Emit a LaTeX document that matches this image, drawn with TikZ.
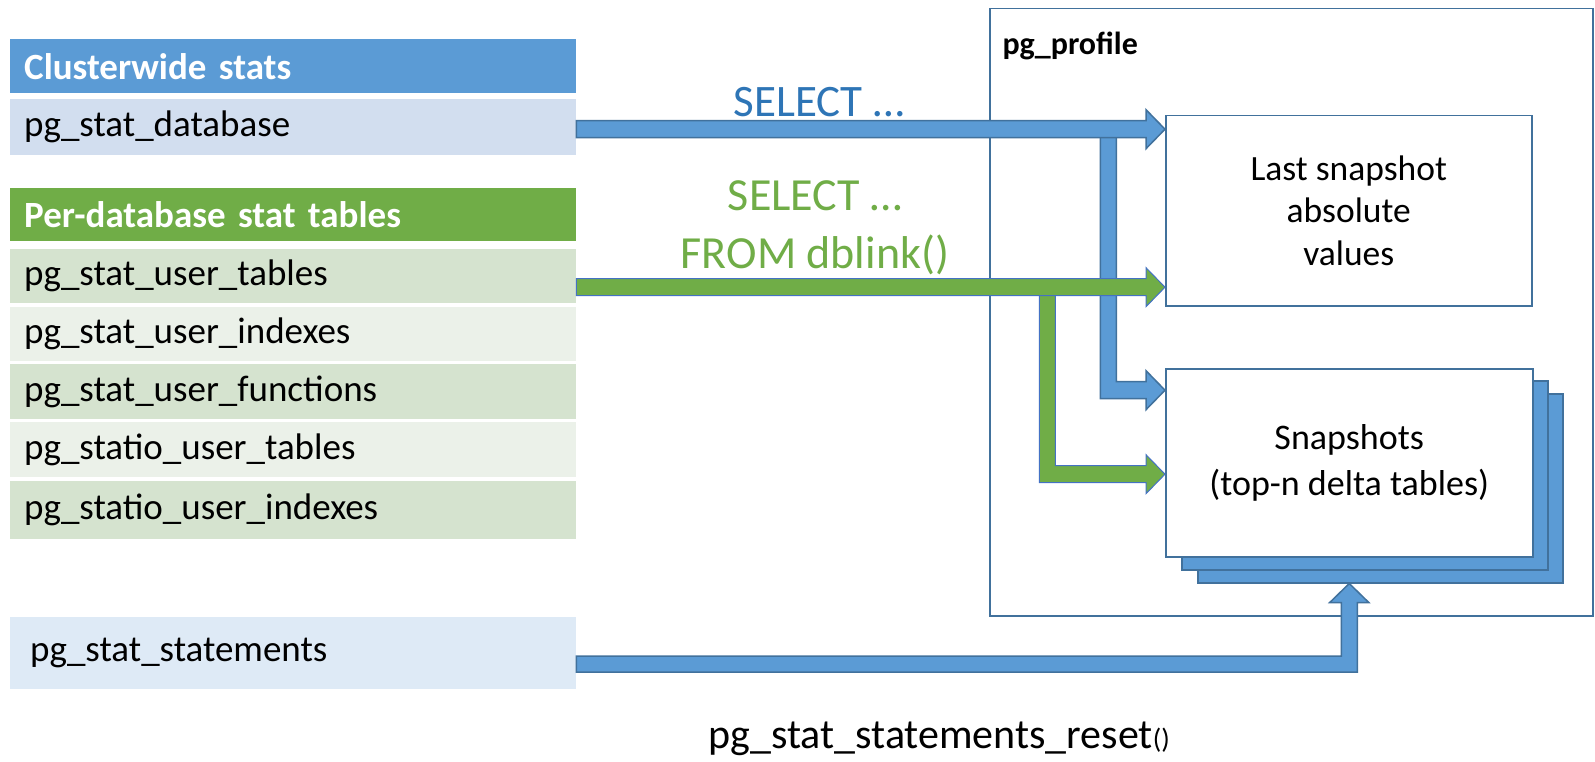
\documentclass[tikz,border=0pt]{standalone}
\usepackage{fontspec}
\setmainfont{Carlito}
\usetikzlibrary{calc}
\definecolor{hblue}{HTML}{5B9BD5}
\definecolor{oblue}{HTML}{41719C}
\definecolor{hgreen}{HTML}{70AD47}
\definecolor{rowblue}{HTML}{D2DEEF}
\definecolor{rowblue2}{HTML}{DEEAF6}
\definecolor{rowgA}{HTML}{D5E3CF}
\definecolor{rowgB}{HTML}{EBF1E9}
\definecolor{tblue}{HTML}{2E75B6}
\definecolor{gline}{HTML}{4472C4}
\tikzset{
  row/.style={anchor=north west, text width=538pt, inner xsep=14pt, inner ysep=0pt,
    font=\fontsize{37}{44}\selectfont, align=left},
  hdr/.style={row, text=white, font=\fontsize{37}{44}\selectfont\bfseries},
  pbox/.style={draw=oblue, line width=1.5pt, anchor=north west, inner sep=0pt},
  layer/.style={pbox, fill=hblue},
  bluearr/.style={fill=hblue, draw=oblue, line width=1.5pt, line join=miter},
  greenarr/.style={fill=hgreen, draw=gline, line width=1pt, line join=miter},
}
% horizontal fat arrow: #1 style, #2 start, #3 tip
\newcommand\hfat[3]{%
  \filldraw[#1] ($(#2)+(0,-8.5)$) -- ($(#3)+(-19,-8.5)$) -- ($(#3)+(-19,-19.5)$) -- (#3)
    -- ($(#3)+(-19,19.5)$) -- ($(#3)+(-19,8.5)$) -- ($(#2)+(0,8.5)$) -- cycle;}
% down-then-right fat arrow: #1 style, #2 top, #3 corner, #4 tip
\newcommand\lfat[4]{%
  \filldraw[#1] ($(#2)+(-8,0)$) -- ($(#3)+(-8,8.5)$) -- ($(#4)+(-19,8.5)$) -- ($(#4)+(-19,19.5)$)
    -- (#4) -- ($(#4)+(-19,-19.5)$) -- ($(#4)+(-19,-8.5)$) -- ($(#3)+(8,-8.5)$) -- ($(#2)+(8,0)$) -- cycle;}
% right-then-up fat arrow: #1 style, #2 start, #3 corner, #4 tip
\newcommand\ufat[4]{%
  \filldraw[#1] ($(#2)+(0,-8)$) -- ($(#3)+(-8,-8)$) -- ($(#4)+(-8,19)$) -- ($(#4)+(-19.5,19)$)
    -- (#4) -- ($(#4)+(19.5,19)$) -- ($(#4)+(8,19)$) -- ($(#3)+(8,8)$) -- ($(#2)+(0,8)$) -- cycle;}
\begin{document}
\begin{tikzpicture}[x=1pt, y=-1pt]
\useasboundingbox[fill=white] (0,0) rectangle (1595,762);

% left column
\node[hdr, fill=hblue, minimum height=54pt] (cw) at (10,39) {Clusterwide stats};
\node[row, fill=rowblue, minimum height=56pt] (db) at (10,99) {pg\_stat\_database};
\node[hdr, fill=hgreen, minimum height=53pt] (pd) at (10,188) {Per-database stat tables};
\node[row, fill=rowgA, minimum height=54pt] (t1) at (10,249) {pg\_stat\_user\_tables};
\node[row, fill=rowgB, minimum height=54pt] (t2) at (10,307) {pg\_stat\_user\_indexes};
\node[row, fill=rowgA, minimum height=55pt] (t3) at (10,364) {pg\_stat\_user\_functions};
\node[row, fill=rowgB, minimum height=55pt] (t4) at (10,422) {pg\_statio\_user\_tables};
\node[row, fill=rowgA, minimum height=58pt] (t5) at (10,481) {pg\_statio\_user\_indexes};
\node[row, fill=rowblue2, minimum height=72pt, text width=526pt, inner xsep=20pt] (stmt) at (10,617) {pg\_stat\_statements};

% pg_profile
\node[pbox, minimum width=603pt, minimum height=607pt] (prof) at (989,8) {};
\node[anchor=west, font=\fontsize{32}{38}\selectfont\bfseries] (proflabel) at (999,46) {pg\_profile};
\node[pbox, fill=white, minimum width=366pt, minimum height=190pt, align=center,
  font=\fontsize{35.5}{42.5}\selectfont] (last) at (1165,115) {Last snapshot\\absolute\\values};
\node[layer, minimum width=365pt, minimum height=189pt] (snap3) at (1197,393) {};
\node[layer, minimum width=366pt, minimum height=189pt] (snap2) at (1181,380) {};
\node[pbox, fill=white, minimum width=367pt, minimum height=188pt, align=center,
  font=\fontsize{36}{46}\selectfont] (snap) at (1165,368) {Snapshots\\(top-n delta tables)};

% arrows
\coordinate (bs) at ($(db.east)+(0,2)$);
\coordinate (bt) at (last.west |- bs);
\coordinate (bv) at ($(bs)+(532,0)$);
\coordinate (bc) at ($(bv)+(0,261)$);
\coordinate (bst) at (snap.west |- bc);
\lfat{bluearr}{bv}{bc}{bst}
\hfat{bluearr}{bs}{bt}

\coordinate (gs) at ($(t1.east)+(0,11)$);
\coordinate (gt) at (last.west |- gs);
\coordinate (gv) at ($(gs)+(471,0)$);
\coordinate (gc) at ($(gv)+(0,187)$);
\coordinate (gst) at (snap.west |- gc);
\lfat{greenarr}{gv}{gc}{gst}
\hfat{greenarr}{gs}{gt}

\coordinate (ss) at ($(stmt.east)+(0,11)$);
\coordinate (stip) at (snap.south |- snap3.south);
\coordinate (sc) at (stip |- ss);
\ufat{bluearr}{ss}{sc}{stip}

% labels
\node[text=tblue, font=\fontsize{45}{50}\selectfont] (sel1) at (819,102) {SELECT …};
\node[text=hgreen, font=\fontsize{46}{58}\selectfont, align=center, anchor=north, inner sep=0pt]
  (sel2) at (815,180) {SELECT …\\FROM dblink()};
\node[anchor=west, font=\fontsize{42}{48}\selectfont] (reset) at (705,739)
  {pg\_stat\_statements\_reset{\fontsize{28}{30}\selectfont()}};
\end{tikzpicture}
\end{document}
